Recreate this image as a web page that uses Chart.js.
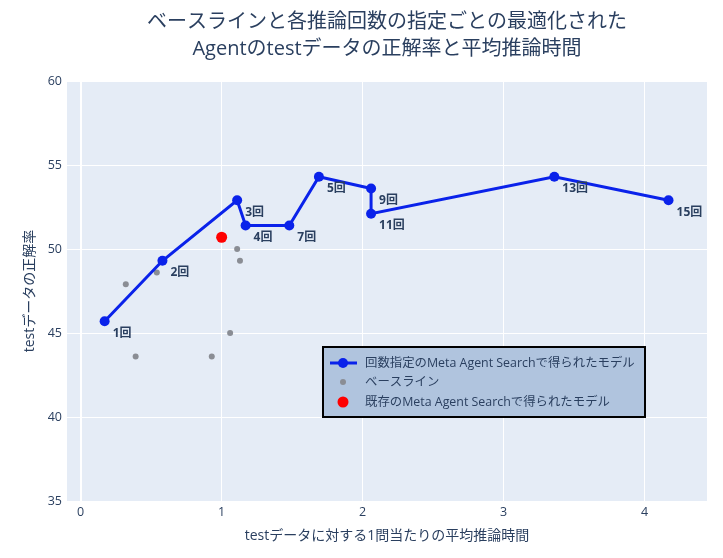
<!DOCTYPE html>
<html>
<head>
<meta charset="utf-8">
<script src="https://cdn.jsdelivr.net/npm/chart.js@4"></script>
<style>
  html, body { margin: 0; padding: 0; background: #fff; }
  #wrap { width: 723px; height: 558px; }
</style>
</head>
<body>
<div id="wrap"><canvas id="chart"></canvas></div>
<script>
// 回数指定のMeta Agent Search
const countLabels = ["1回", "2回", "3回", "4回", "7回", "5回", "9回", "11回", "13回", "15回"];
const countTime = [0.17, 0.58, 1.11, 1.17, 1.48, 1.69, 2.06, 2.06, 3.36, 4.17];
const countAcc = [45.7, 49.3, 52.9, 51.4, 51.4, 54.3, 53.6, 52.1, 54.3, 52.9];

// ベースライン
const baseTime = [0.32, 0.54, 1.11, 1.13, 1.06, 0.39, 0.93];
const baseAcc = [47.9, 48.6, 50.0, 49.3, 45.0, 43.6, 43.6];

// 既存のMeta Agent Search
const origTime = [1.0];
const origAcc = [50.7];

const titleLines = ["ベースラインと各推論回数の指定ごとの最適化された", "Agentのtestデータの正解率と平均推論時間"];
const xTitle = "testデータに対する1問当たりの平均推論時間";
const yTitle = "testデータの正解率";

const FONT = '"Open Sans", "Noto Sans CJK JP", sans-serif';
const TEXT = "#2a3f5f";

const toPoints = (xs, ys) => xs.map((x, i) => ({ x: x, y: ys[i] }));

const plotBg = {
    id: "plotBg",
    beforeDraw(chart) {
        const { ctx, chartArea: a } = chart;
        ctx.save();
        ctx.fillStyle = "#E5ECF6";
        ctx.fillRect(a.left, a.top, a.right - a.left, a.bottom - a.top);
        ctx.restore();
    }
};

const pointText = {
    id: "pointText",
    afterDatasetsDraw(chart) {
        const ctx = chart.ctx;
        const meta = chart.getDatasetMeta(0);
        ctx.save();
        ctx.font = "bold 12px " + FONT;
        ctx.fillStyle = TEXT;
        ctx.textAlign = "left";
        ctx.textBaseline = "middle";
        meta.data.forEach((p, i) => {
            ctx.fillText(countLabels[i], p.x + 8, p.y + 12);
        });
        ctx.restore();
    }
};

const texts = {
    id: "texts",
    afterDraw(chart) {
        const { ctx, chartArea: a } = chart;
        const cx = (a.left + a.right) / 2;
        const cy = (a.top + a.bottom) / 2;
        ctx.save();
        ctx.fillStyle = TEXT;
        ctx.textAlign = "center";
        ctx.textBaseline = "middle";
        ctx.font = "20px " + FONT;
        ctx.fillText(titleLines[0], cx, 22);
        ctx.fillText(titleLines[1], cx, 49);
        ctx.font = "14px " + FONT;
        ctx.fillText(xTitle, cx, 536);
        ctx.translate(30, cy);
        ctx.rotate(-Math.PI / 2);
        ctx.fillText(yTitle, 0, 0);
        ctx.restore();
    }
};

const boxLegend = {
    id: "boxLegend",
    afterDraw(chart) {
        const ctx = chart.ctx;
        const ds = chart.data.datasets;
        const x0 = 323, y0 = 347, w = 322, h = 70;
        ctx.save();
        ctx.fillStyle = "#B0C4DE";
        ctx.fillRect(x0, y0, w, h);
        ctx.lineWidth = 2;
        ctx.strokeStyle = "#000";
        ctx.strokeRect(x0, y0, w, h);
        const rows = [363, 382, 402];
        ctx.font = "12.4px " + FONT;
        ctx.textAlign = "left";
        ctx.textBaseline = "middle";
        ds.forEach((d, i) => {
            const y = rows[i];
            if (d.showLine) {
                ctx.strokeStyle = d.borderColor;
                ctx.lineWidth = d.borderWidth;
                ctx.beginPath();
                ctx.moveTo(330, y);
                ctx.lineTo(357, y);
                ctx.stroke();
            }
            ctx.fillStyle = d.pointBackgroundColor;
            ctx.beginPath();
            ctx.arc(343, y, d.pointRadius, 0, Math.PI * 2);
            ctx.fill();
            ctx.fillStyle = TEXT;
            ctx.fillText(d.label, 365, y);
        });
        ctx.restore();
    }
};

new Chart(document.getElementById("chart"), {
    type: "scatter",
    data: {
        datasets: [
            {
                label: "回数指定のMeta Agent Searchで得られたモデル",
                data: toPoints(countTime, countAcc),
                showLine: true,
                borderColor: "#0a22ea",
                borderWidth: 3,
                pointBackgroundColor: "#0a22ea",
                pointBorderWidth: 0,
                pointRadius: 5,
                order: 0,
            },
            {
                label: "ベースライン",
                data: toPoints(baseTime, baseAcc),
                pointBackgroundColor: "#8a8d94",
                pointBorderWidth: 0,
                pointRadius: 3,
                order: 2,
            },
            {
                label: "既存のMeta Agent Searchで得られたモデル",
                data: toPoints(origTime, origAcc),
                pointBackgroundColor: "#ff0000",
                pointBorderWidth: 0,
                pointRadius: 5.5,
                order: 1,
            },
        ],
    },
    options: {
        responsive: true,
        maintainAspectRatio: false,
        animation: false,
        layout: {
            padding: { top: 81, right: 16, bottom: 0, left: 0 },
        },
        scales: {
            x: {
                type: "linear",
                min: -0.097,
                max: 4.443,
                afterFit: (s) => { s.height = 57; },
                border: { display: false },
                grid: {
                    color: "#ffffff",
                    lineWidth: (c) => (c.tick && c.tick.value === 0 ? 2 : 1),
                    drawTicks: false,
                },
                ticks: {
                    stepSize: 1,
                    includeBounds: false,
                    padding: 4,
                    color: TEXT,
                    font: { family: FONT, size: 12.5 },
                },
            },
            y: {
                type: "linear",
                min: 35,
                max: 60,
                afterFit: (s) => { s.width = 67; },
                border: { display: false },
                grid: {
                    color: "#ffffff",
                    drawTicks: false,
                },
                ticks: {
                    stepSize: 5,
                    includeBounds: false,
                    padding: 5,
                    color: TEXT,
                    font: { family: FONT, size: 12.5 },
                },
            },
        },
        plugins: {
            legend: { display: false },
            tooltip: { enabled: false },
        },
    },
    plugins: [plotBg, pointText, texts, boxLegend],
});
</script>
</body>
</html>
